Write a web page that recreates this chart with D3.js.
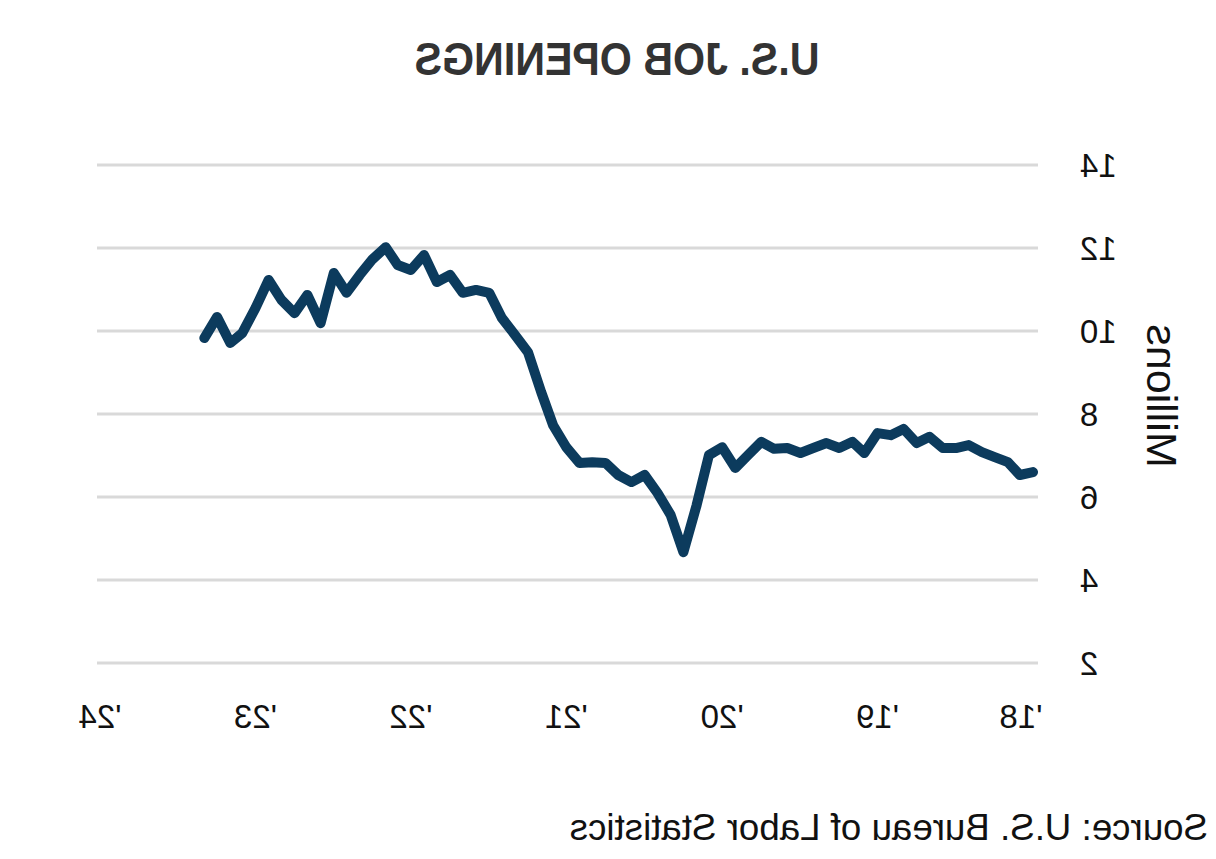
<!DOCTYPE html>
<html>
<head>
<meta charset="utf-8">
<script src="https://cdn.jsdelivr.net/npm/d3@7"></script>
<style>
  html, body { margin: 0; padding: 0; background: #ffffff; }
  svg { display: block; }
</style>
</head>
<body>
<svg id="chart" width="1216" height="859"></svg>
<script>
// ---- data (monthly U.S. job openings, millions) ----
const title = "U.S. JOB OPENINGS";
const yAxisTitle = "Millions";
const sourceText = "Source: U.S. Bureau of Labor Statistics";
const firstMonth = "2018-01";
const openings2018 = [6.60, 6.53, 6.84, 6.96, 7.08, 7.25, 7.18, 7.18, 7.45, 7.30, 7.64, 7.49];
const openings2019 = [7.54, 7.06, 7.33, 7.18, 7.30, 7.18, 7.06, 7.18, 7.16, 7.33, 7.01, 6.70];
const openings2020 = [7.20, 7.01, 5.80, 4.67, 5.57, 6.10, 6.53, 6.36, 6.53, 6.82, 6.84, 6.82];
const openings2021 = [7.20, 7.73, 8.53, 9.49, 9.90, 10.31, 10.92, 10.99, 10.92, 11.35, 11.18, 11.83];
const openings2022 = [11.47, 11.59, 12.02, 11.73, 11.35, 10.92, 11.40, 10.19, 10.87, 10.43, 10.75, 11.23];
const openings2023 = [10.55, 9.95, 9.71, 10.34, 9.83];
const yTicks = [2, 4, 6, 8, 10, 12, 14];
const xTickYears = [2018, 2019, 2020, 2021, 2022, 2023, 2024];
const xTickLabels = ["'18", "'19", "'20", "'21", "'22", "'23", "'24"];

const values = [].concat(openings2018, openings2019, openings2020, openings2021, openings2022, openings2023);
const start = d3.timeParse("%Y-%m")(firstMonth);
const data = values.map((v, i) => ({ date: d3.timeMonth.offset(start, i), value: v }));

// ---- layout ----
const W = 1216, H = 859;
const svg = d3.select("#chart");
// the reference is a horizontally mirrored rendering
const g = svg.append("g").attr("transform", `translate(${W},0) scale(-1,1)`);

const x = d3.scaleTime()
  .domain([new Date(2018, 0, 1), new Date(2024, 0, 1)])
  .range([183, 1116]);
const y = d3.scaleLinear().domain([2, 14]).range([663, 165]);

// gridlines
g.append("g").selectAll("line").data(yTicks).join("line")
  .attr("x1", 178).attr("x2", 1119)
  .attr("y1", d => y(d)).attr("y2", d => y(d))
  .attr("stroke", "#d9d9d9").attr("stroke-width", 3);

// y tick labels
g.append("g").selectAll("text").data(yTicks).join("text")
  .attr("x", 136).attr("y", d => y(d)).attr("dy", "0.35em")
  .attr("text-anchor", "end")
  .attr("font-family", "'Liberation Sans', Arial, sans-serif")
  .attr("font-size", 33).attr("fill", "#111")
  .text(d => d);

// x tick labels
g.append("g").selectAll("text").data(xTickYears).join("text")
  .attr("x", (d, i) => x(new Date(d, 0, 1)) + (i === 0 ? 12 : 0))
  .attr("y", 728)
  .attr("text-anchor", "middle")
  .attr("font-family", "'Liberation Sans', Arial, sans-serif")
  .attr("font-size", 33).attr("fill", "#111")
  .text((d, i) => xTickLabels[i]);

// y axis title
g.append("text")
  .attr("transform", "translate(69,396) rotate(-90)")
  .attr("text-anchor", "middle")
  .attr("font-family", "'Liberation Sans', Arial, sans-serif")
  .attr("font-size", 43).attr("fill", "#111")
  .text(yAxisTitle);

// line
const line = d3.line().x(d => x(d.date)).y(d => y(d.value));
g.append("path").datum(data)
  .attr("d", line)
  .attr("fill", "none")
  .attr("stroke", "#0c3b5d")
  .attr("stroke-width", 10)
  .attr("stroke-linejoin", "round")
  .attr("stroke-linecap", "round");

// title (condensed bold)
g.append("text")
  .attr("x", 599).attr("y", 75)
  .attr("text-anchor", "middle")
  .attr("font-family", "'Liberation Sans', Arial, sans-serif")
  .attr("font-weight", "bold")
  .attr("font-size", 47).attr("fill", "#333333")
  .attr("textLength", 405)
  .attr("lengthAdjust", "spacingAndGlyphs")
  .text(title);

// source
g.append("text")
  .attr("x", 8).attr("y", 840)
  .attr("text-anchor", "start")
  .attr("font-family", "'Liberation Sans', Arial, sans-serif")
  .attr("font-size", 36.7).attr("fill", "#111")
  .text(sourceText);
</script>
</body>
</html>
